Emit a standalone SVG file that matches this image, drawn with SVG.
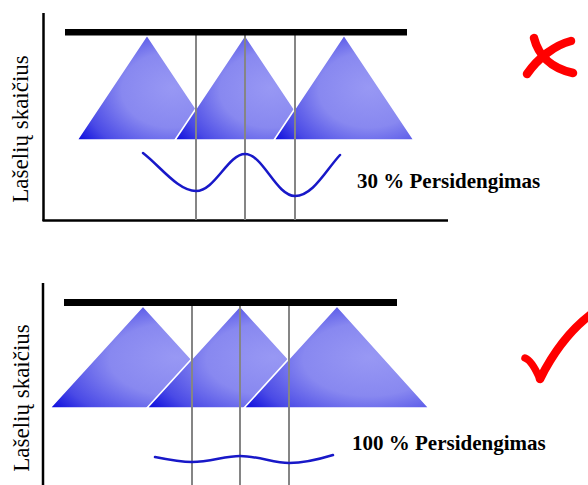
<svg xmlns="http://www.w3.org/2000/svg" width="588" height="485" viewBox="0 0 588 485">
  <defs>
    <radialGradient id="tri" cx="0.68" cy="0.55" r="0.8" fx="0.68" fy="0.5">
      <stop offset="0" stop-color="#9898f4"/>
      <stop offset="0.45" stop-color="#8888f0"/>
      <stop offset="0.8" stop-color="#4a4ae6"/>
      <stop offset="1" stop-color="#0e0ede"/>
    </radialGradient>
    <style>
      .tri { fill: url(#tri); stroke: #ffffff; stroke-width: 1.6; stroke-linejoin: miter; }
      .bar { fill: #000000; }
      .axis { stroke: #000000; stroke-width: 2.5; fill: none; }
      .grid { stroke: #858585; stroke-width: 2; fill: none; }
      .wave { stroke: #1818c8; stroke-width: 2.5; fill: none; stroke-linecap: round; }
      .ylab { font-family: "Liberation Serif", "Times New Roman", serif; font-size: 23px; fill: #000; }
      .lab { font-family: "Liberation Serif", "Times New Roman", serif; font-size: 21px; font-weight: bold; fill: #000; }
      .mark { stroke: #ff0000; fill: none; stroke-linecap: round; stroke-linejoin: round; }
    </style>
  </defs>

  <g id="panel-top">
    <g id="top-axes">
      <line class="axis" x1="43.5" y1="13" x2="43.5" y2="221"/>
      <line class="axis" x1="42.5" y1="220.5" x2="448" y2="220.5"/>
    </g>
    <text id="top-ylabel" class="ylab" text-anchor="middle" transform="translate(28,129) rotate(-90)">Lašelių skaičius</text>
    <g id="top-sprays">
      <polygon class="tri" points="147,35 217,140 77,140"/>
      <polygon class="tri" points="245,35 315,140 175,140"/>
      <polygon class="tri" points="344,35 414,140 274,140"/>
    </g>
    <g id="top-grid">
      <line class="grid" x1="196" y1="35" x2="196" y2="220"/>
      <line class="grid" x1="245" y1="35" x2="245" y2="220"/>
      <line class="grid" x1="295" y1="35" x2="295" y2="220"/>
    </g>
    <rect id="top-boom" class="bar" x="65" y="29" width="342" height="6.5"/>
    <path id="top-wave" class="wave" d="M143,153 C160,166 178,191 196,191 C215,191 228,154 245,154 C263,154 276,196 295,196 C313,196 326,170 340,155"/>
    <text id="top-text" class="lab" x="357" y="188">30 % Persidengimas</text>
    <g id="cross">
      <path class="mark" stroke-width="8.5" d="M534,38 C538,54 550,68 573,73"/>
      <path class="mark" stroke-width="8.5" d="M571,41 C555,45 538,58 527,74"/>
    </g>
  </g>

  <g id="panel-bottom">
    <g id="bottom-axes">
      <line class="axis" x1="43" y1="283" x2="43" y2="485"/>
    </g>
    <text id="bottom-ylabel" class="ylab" text-anchor="middle" transform="translate(29,398) rotate(-90)">Lašelių skaičius</text>
    <g id="bottom-sprays">
      <polygon class="tri" points="143,306 236,408 50,408"/>
      <polygon class="tri" points="240,306 333,408 147,408"/>
      <polygon class="tri" points="337,306 429,408 244,408"/>
    </g>
    <g id="bottom-grid">
      <line class="grid" x1="192" y1="306" x2="192" y2="485"/>
      <line class="grid" x1="240" y1="306" x2="240" y2="485"/>
      <line class="grid" x1="289" y1="306" x2="289" y2="485"/>
    </g>
    <rect id="bottom-boom" class="bar" x="64" y="299" width="333" height="7"/>
    <path id="bottom-wave" class="wave" d="M155,457 C170,460 180,462 192,462 C210,462 225,456 240,456 C258,456 274,463 289,463 C305,463 320,459 333,455"/>
    <text id="bottom-text" class="lab" x="352" y="450">100 % Persidengimas</text>
    <g id="check">
      <path class="mark" stroke-width="7.5" d="M525,358 C531,360 536,370 540,379"/>
      <path class="mark" stroke-width="8.5" d="M540,379 C552,355 568,332 590,315"/>
    </g>
  </g>
</svg>
